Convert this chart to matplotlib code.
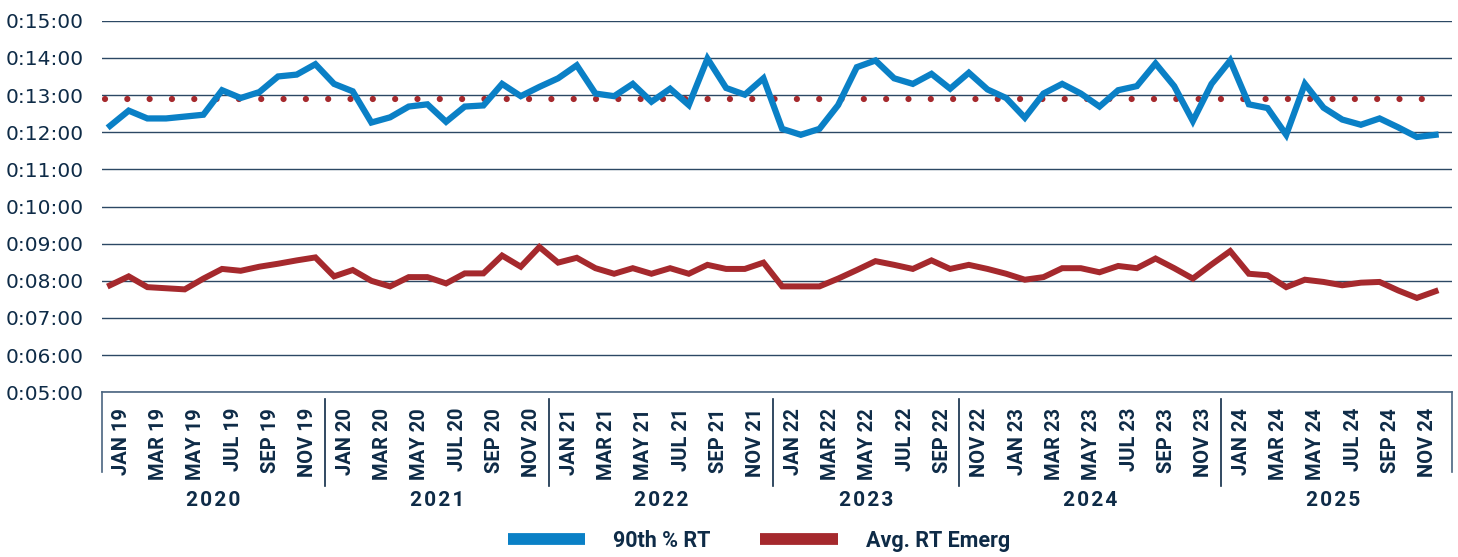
'''
Monthly response times (90th percentile and average emergency) with target line.
'''
import matplotlib.pyplot as plt
from matplotlib import font_manager
from matplotlib.lines import Line2D
import matplotlib.transforms as mtransforms
import numpy as np

# values in minutes
rt90 = [12.17, 12.58, 12.37, 12.37, 12.42, 12.47, 13.13, 12.92, 13.08, 13.50, 13.55, 13.83,
        13.30, 13.10, 12.26, 12.40, 12.69, 12.75, 12.28, 12.69, 12.72, 13.30, 12.97, 13.22,
        13.45, 13.80, 13.04, 12.97, 13.30, 12.82, 13.17, 12.73, 13.98, 13.19, 13.01, 13.45,
        12.09, 11.93, 12.09, 12.73, 13.75, 13.93, 13.45, 13.30, 13.57, 13.17, 13.60, 13.15,
        12.92, 12.39, 13.04, 13.30, 13.04, 12.69, 13.13, 13.24, 13.85, 13.24, 12.30, 13.30,
        13.93, 12.75, 12.65, 11.93, 13.30, 12.66, 12.34, 12.20, 12.37, 12.13, 11.87, 11.93]
avg_emerg = [7.88, 8.12, 7.83, 7.80, 7.77, 8.06, 8.32, 8.27, 8.38, 8.46, 8.55, 8.63,
             8.12, 8.29, 8.00, 7.85, 8.10, 8.10, 7.93, 8.20, 8.20, 8.68, 8.38, 8.91,
             8.49, 8.62, 8.34, 8.19, 8.34, 8.19, 8.34, 8.19, 8.43, 8.32, 8.32, 8.49,
             7.85, 7.85, 7.85, 8.06, 8.29, 8.53, 8.43, 8.32, 8.55, 8.32, 8.43, 8.32,
             8.19, 8.03, 8.10, 8.34, 8.34, 8.23, 8.40, 8.34, 8.60, 8.34, 8.06, 8.44,
             8.80, 8.19, 8.15, 7.83, 8.03, 7.97, 7.88, 7.95, 7.97, 7.74, 7.54, 7.72]
target = 12.9

month_names = ["JAN", "FEB", "MAR", "APR", "MAY", "JUN", "JUL", "AUG", "SEP", "OCT", "NOV", "DEC"]
years = ["19", "20", "21", "22", "23", "24"]
month_labels = [f"{m} {y}" for y in years for m in month_names]
groups = ["2020", "2021", "2022", "2023", "2024", "2025"]
group_sizes = [12, 12, 12, 10, 14, 12]

BLUE = "#0a80c6"
RED = "#a5292d"
NAVY = "#0e2b47"
GRID = "#2c4864"

names = {f.name for f in font_manager.fontManager.ttflist}
narrow = "Liberation Sans Narrow" if "Liberation Sans Narrow" in names else "Roboto"
msize = 15.5 if narrow != "Roboto" else 14.5

x = np.arange(len(rt90))

fig = plt.figure(figsize=(14.58, 5.57), dpi=100)
ax = fig.add_axes([0.06996, 0.2957, 0.92592, 0.6671])

ax.set_ylim(5, 15)
ax.set_xlim(-0.43, 71.88)
ax.set_yticks(np.arange(5, 16, 1))
ax.set_yticklabels([f"0:{int(v):02d}:00" for v in np.arange(5, 16, 1)],
                   fontsize=14.5, color=NAVY, family="DejaVu Sans")
ax.tick_params(axis="y", length=0, pad=13)
ax.set_xticks([])
for s in ["left", "right", "top"]:
    ax.spines[s].set_visible(False)
ax.spines["bottom"].set_color("#4a6580")
ax.spines["bottom"].set_linewidth(1.2)
ax.grid(axis="y", color=GRID, linewidth=1.0)
ax.set_axisbelow(True)

ax.hlines(target, x[0] - 0.25, x[-1], colors=RED, linewidth=4.5,
          linestyles=(0, (0.001, 3.57)), capstyle="round", zorder=2)
ax.plot(x, rt90, color=BLUE, linewidth=4.5, solid_joinstyle="miter", zorder=3)
ax.plot(x, avg_emerg, color=RED, linewidth=4.3, solid_joinstyle="miter", zorder=3)

trans = mtransforms.blended_transform_factory(ax.transData, ax.transAxes)
for i in range(0, len(month_labels), 2):
    ax.text(i + 0.59, -0.042, month_labels[i], transform=trans, rotation=90,
            ha="center", va="top", fontsize=msize, fontweight="bold", color=NAVY,
            family=narrow)

# group separators and year labels
ax.plot([0, 0], [0, -0.215], transform=ax.transAxes, color="#4a6580", lw=1.2, clip_on=False)
ax.plot([1, 1], [0, -0.215], transform=ax.transAxes, color="#4a6580", lw=1.2, clip_on=False)
start = 0
for k, (g, n) in enumerate(zip(groups, group_sizes)):
    mid = start + (n - 1) / 2
    ax.text(mid, -0.29, "\u200a".join(g), transform=trans, ha="center", va="center",
            fontsize=15, fontweight="bold", color=NAVY, family="Roboto")
    if k < len(groups) - 1:
        ax.plot([start + n - 0.5] * 2, [-0.018, -0.252], transform=trans,
                color=NAVY, lw=1.2, clip_on=False)
    start += n

handles = [Line2D([], [], color=BLUE, lw=8.5, solid_capstyle="butt"),
           Line2D([], [], color=RED, lw=8.5, solid_capstyle="butt")]
leg = fig.legend(handles, ["90th % RT", "Avg. RT Emerg"], loc="center",
                 bbox_to_anchor=(0.5205, 0.0287), ncol=2, frameon=False,
                 prop={"family": "Roboto", "weight": "bold", "size": 15.5},
                 handlelength=3.6, handletextpad=1.3, columnspacing=2.3)
for t in leg.get_texts():
    t.set_color(NAVY)

fig.savefig("out.png", dpi=100)
